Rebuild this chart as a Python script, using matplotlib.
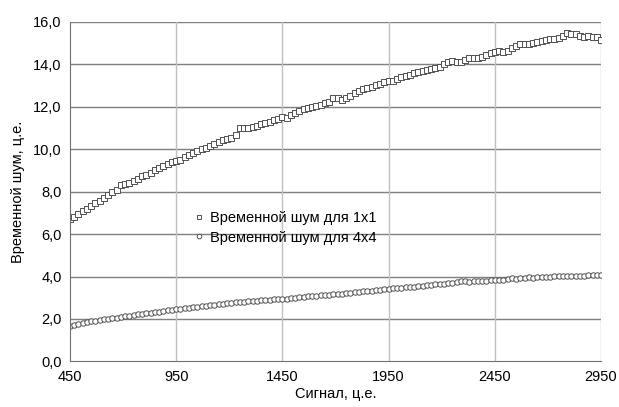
import matplotlib
matplotlib.use("Agg")
import matplotlib.pyplot as plt
import numpy as np

plt.rcParams['font.family'] = ['Liberation Sans', 'DejaVu Sans']

# сигнал, ц.е. (шаг 20)
signal = np.arange(450, 2951, 20)

# временной шум для 1x1
noise_1x1 = [
    6.70, 6.82, 6.95, 7.08, 7.20, 7.33, 7.45, 7.58, 7.70, 7.84,
    7.98, 8.10, 8.30, 8.35, 8.42, 8.52, 8.62, 8.72, 8.80, 8.90,
    9.00, 9.10, 9.20, 9.30, 9.40, 9.46, 9.50, 9.62, 9.72, 9.82,
    9.90, 10.00, 10.08, 10.15, 10.25, 10.33, 10.42, 10.50, 10.55, 10.65,
    11.00, 11.02, 11.00, 11.05, 11.10, 11.18, 11.22, 11.30, 11.38, 11.45,
    11.52, 11.48, 11.60, 11.70, 11.80, 11.88, 11.95, 12.00, 12.05, 12.10,
    12.17, 12.25, 12.42, 12.43, 12.33, 12.40, 12.52, 12.65, 12.75, 12.85,
    12.90, 12.95, 13.02, 13.10, 13.15, 13.20, 13.22, 13.30, 13.40, 13.45,
    13.52, 13.58, 13.62, 13.68, 13.72, 13.78, 13.82, 13.90, 14.02, 14.13,
    14.16, 14.12, 14.13, 14.22, 14.28, 14.30, 14.28, 14.35, 14.45, 14.53,
    14.60, 14.62, 14.58, 14.62, 14.76, 14.85, 14.95, 14.97, 14.98, 15.00,
    15.05, 15.10, 15.15, 15.20, 15.22, 15.25, 15.32, 15.50, 15.45, 15.44,
    15.35, 15.30, 15.32, 15.30, 15.28, 15.15,
]

# временной шум для 4x4
noise_4x4 = [
    1.65, 1.72, 1.78, 1.82, 1.86, 1.89, 1.92, 1.95, 1.98, 2.01,
    2.04, 2.07, 2.10, 2.13, 2.16, 2.19, 2.22, 2.25, 2.27, 2.30,
    2.32, 2.35, 2.38, 2.41, 2.44, 2.46, 2.48, 2.51, 2.53, 2.56,
    2.58, 2.61, 2.63, 2.66, 2.68, 2.70, 2.72, 2.74, 2.76, 2.78,
    2.80, 2.82, 2.84, 2.85, 2.87, 2.89, 2.90, 2.91, 2.92, 2.93,
    2.94, 2.96, 2.98, 3.00, 3.02, 3.04, 3.06, 3.07, 3.09, 3.11,
    3.13, 3.15, 3.17, 3.18, 3.20, 3.22, 3.24, 3.26, 3.28, 3.30,
    3.32, 3.34, 3.36, 3.38, 3.40, 3.42, 3.44, 3.46, 3.48, 3.50,
    3.52, 3.53, 3.55, 3.57, 3.59, 3.61, 3.63, 3.65, 3.67, 3.68,
    3.70, 3.73, 3.78, 3.77, 3.76, 3.79, 3.80, 3.80, 3.81, 3.83,
    3.84, 3.86, 3.85, 3.88, 3.92, 3.90, 3.92, 3.95, 3.96, 3.95,
    3.97, 3.98, 3.99, 4.00, 4.01, 4.01, 4.02, 4.03, 4.03, 4.04,
    4.04, 4.03, 4.05, 4.05, 4.06, 4.06,
]

x_ticks = [450, 950, 1450, 1950, 2450, 2950]
y_ticks = [0, 2, 4, 6, 8, 10, 12, 14, 16]

fig = plt.figure(figsize=(6.19, 4.07), dpi=100)
ax = fig.add_axes([0.113, 0.112, 0.858, 0.834])

ax.plot(signal, noise_1x1, linestyle='none', marker='s', markersize=3.7,
        markerfacecolor='white', markeredgecolor='#505050', markeredgewidth=0.7,
        label='Временной шум для 1x1')
ax.plot(signal, noise_4x4, linestyle='none', marker='o', markersize=3.9,
        markerfacecolor='white', markeredgecolor='#505050', markeredgewidth=0.7,
        label='Временной шум для 4x4')

ax.set_xlim(450, 2950)
ax.set_ylim(0, 16)
ax.set_xticks(x_ticks)
ax.set_yticks(y_ticks)
ax.set_yticklabels([f"{v:.1f}".replace('.', ',') for v in y_ticks])
ax.tick_params(length=0, labelsize=10.5, pad=6)

for y in y_ticks[1:]:
    ax.axhline(y, color='#7f7f7f', lw=1.0, zorder=0)
for x in x_ticks[1:]:
    ax.axvline(x, color='#c0c0c0', lw=1.0, zorder=0)

for s in ['top', 'right']:
    ax.spines[s].set_visible(False)
ax.spines['left'].set_color('#6f6f6f')
ax.spines['bottom'].set_color('#6f6f6f')

ax.set_xlabel('Сигнал, ц.е.', fontsize=10.5, labelpad=2)
ax.set_ylabel('Временной шум, ц.е.', fontsize=10.5, labelpad=6)

leg = ax.legend(loc='center left', bbox_to_anchor=(0.215, 0.393), frameon=False,
                fontsize=10.5, handletextpad=0.3, labelspacing=0.35, borderpad=0,
                handlelength=1.0, markerscale=0.85)

fig.savefig('out.png', dpi=100)
